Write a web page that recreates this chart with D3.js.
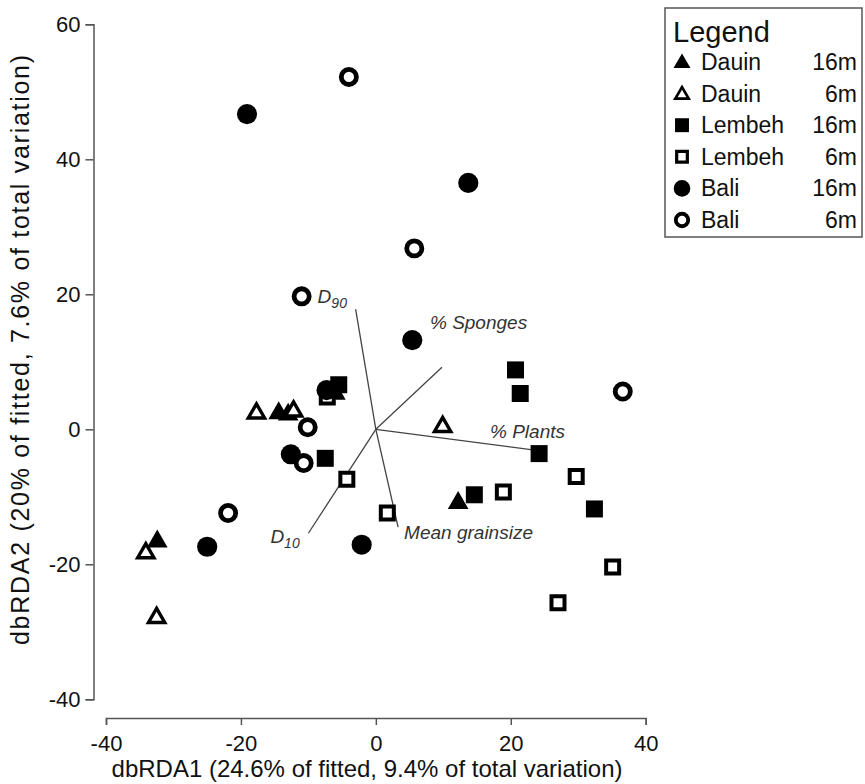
<!DOCTYPE html>
<html lang="en">
<head>
  <meta charset="UTF-8" />
  <title>dbRDA</title>
  <script src="https://d3js.org/d3.v7.min.js"></script>
  <style>
    body { margin: 0; background: #fff; font-family: "Liberation Sans", Arial, sans-serif; }
    .tick text { font-size: 22px; fill: #111; }
    .axis-label { font-size: 24px; fill: #111; }
    .vec-label { font-size: 19px; font-style: italic; fill: #333; }
    .legend text { font-size: 23px; fill: #111; }
  </style>
</head>
<body>
  <svg id="chart"></svg>
  <script>
    // sample groups: location, depth and marker
    const groups = [
      { loc: "Dauin",  depth: "16m", shape: "triangle", filled: true },
      { loc: "Dauin",  depth: "6m",  shape: "triangle", filled: false },
      { loc: "Lembeh", depth: "16m", shape: "square",   filled: true },
      { loc: "Lembeh", depth: "6m",  shape: "square",   filled: false },
      { loc: "Bali",   depth: "16m", shape: "circle",   filled: true },
      { loc: "Bali",   depth: "6m",  shape: "circle",   filled: false }
    ];

    // ordination scores [dbRDA1, dbRDA2] per group
    const dauin16  = [[-14.4, 2.6], [-13.0, 2.4], [-6.0, 5.5], [12.2, -10.7], [-32.4, -16.4]];
    const dauin6   = [[-17.7, 2.6], [-12.2, 2.9], [9.9, 0.6], [-34.1, -18.1], [-32.5, -27.7]];
    const lembeh16 = [[-5.5, 6.6], [-7.5, -4.3], [20.7, 8.8], [21.4, 5.3], [24.2, -3.6], [14.6, -9.7], [32.4, -11.8]];
    const lembeh6  = [[-7.2, 4.8], [-4.3, -7.4], [1.7, -12.4], [18.9, -9.3], [29.7, -7.0], [35.1, -20.4], [27.0, -25.7]];
    const bali16   = [[-19.1, 46.7], [13.7, 36.5], [5.4, 13.2], [-12.6, -3.7], [-2.1, -17.1], [-25.0, -17.4], [-7.3, 5.8]];
    const bali6    = [[-4.0, 52.2], [5.7, 26.8], [-11.0, 19.7], [36.6, 5.6], [-10.1, 0.3], [-10.7, -5.0], [-21.9, -12.4]];
    const series = [dauin16, dauin6, lembeh16, lembeh6, bali16, bali6];

    // environmental vectors (end points)
    const vectors = [
      { name: "D", sub: "90", end: [-3.0, 17.8] },
      { name: "% Sponges", sub: "", end: [9.8, 9.2] },
      { name: "% Plants", sub: "", end: [23.0, -3.0] },
      { name: "Mean grainsize", sub: "", end: [3.3, -14.5] },
      { name: "D", sub: "10", end: [-10.0, -15.4] }
    ];

    const xTicks = [-40, -20, 0, 20, 40];
    const yTicks = [-40, -20, 0, 20, 40, 60];

    const W = 865, H = 784;
    const svg = d3.select("#chart").attr("width", W).attr("height", H);

    const x = d3.scaleLinear().domain([-40, 40]).range([106, 645.7]);
    const y = d3.scaleLinear().domain([-40, 60]).range([699.3, 24.3]);

    const yAxisX = 93.5, xAxisY = 718;

    const xAxis = svg.append("g")
      .attr("transform", `translate(0,${xAxisY})`)
      .call(d3.axisBottom(x).tickValues(xTicks).tickFormat(d => String(d))
        .tickSizeOuter(0).tickSize(7).tickPadding(10));
    const yAxis = svg.append("g")
      .attr("transform", `translate(${yAxisX},0)`)
      .call(d3.axisLeft(y).tickValues(yTicks).tickFormat(d => String(d))
        .tickSizeOuter(0).tickSize(8).tickPadding(5));
    [xAxis, yAxis].forEach(a => {
      a.selectAll("path, line").attr("stroke", "#555").attr("stroke-width", 1.5);
      a.selectAll("text").attr("font-family", "Liberation Sans, Arial, sans-serif");
    });

    svg.append("text")
      .attr("class", "axis-label")
      .attr("x", 367).attr("y", 777)
      .attr("text-anchor", "middle")
      .text("dbRDA1 (24.6% of fitted, 9.4% of total variation)");

    svg.append("text")
      .attr("class", "axis-label")
      .attr("transform", "translate(29,350) rotate(-90)")
      .attr("text-anchor", "middle")
      .style("font-size", "25px")
      .attr("textLength", 590)
      .attr("lengthAdjust", "spacing")
      .text("dbRDA2 (20% of fitted, 7.6% of total variation)");

    // vectors
    const labelOffset = {
      "D90": [-38, -6],
      "% Sponges": [-12, -38],
      "% Plants": [-41, -12],
      "Mean grainsize": [6, 12],
      "D10": [-38, 10]
    };
    vectors.forEach(v => {
      svg.append("line")
        .attr("x1", x(0)).attr("y1", y(0))
        .attr("x2", x(v.end[0])).attr("y2", y(v.end[1]))
        .attr("stroke", "#444").attr("stroke-width", 1.3);
    });

    function markerPath(shape, filled, scale) {
      const sizes = {
        circle:   filled ? 320 : 180,
        square:   filled ? 289 : 169,
        triangle: filled ? 185 : 115
      };
      const type = shape === "circle" ? d3.symbolCircle
                 : shape === "square" ? d3.symbolSquare : d3.symbolTriangle;
      return d3.symbol().type(type).size(sizes[shape] * scale * scale)();
    }
    function strokeW(shape) {
      return shape === "circle" ? 4.8 : shape === "square" ? 4 : 3.4;
    }
    function triShift(shape, scale) {
      return shape === "triangle" ? 1.5 * scale : 0;
    }

    series.forEach((pts, i) => {
      const g = groups[i];
      svg.append("g").selectAll("path")
        .data(pts)
        .join("path")
        .attr("d", markerPath(g.shape, g.filled, 1))
        .attr("transform", d => `translate(${x(d[0])},${y(d[1]) + triShift(g.shape, 1)})`)
        .attr("fill", g.filled ? "#000" : "#fff")
        .attr("stroke", g.filled ? "none" : "#000")
        .attr("stroke-width", strokeW(g.shape));
    });

    // vector labels on top
    vectors.forEach(v => {
      const off = labelOffset[v.name + v.sub];
      const t = svg.append("text")
        .attr("class", "vec-label")
        .attr("x", x(v.end[0]) + off[0])
        .attr("y", y(v.end[1]) + off[1]);
      t.append("tspan").text(v.name);
      if (v.sub) {
        t.append("tspan").attr("dy", 5).attr("font-size", 14).text(v.sub);
      }
    });

    // legend
    const leg = svg.append("g").attr("class", "legend");
    leg.append("rect")
      .attr("x", 665).attr("y", 8).attr("width", 197).attr("height", 229)
      .attr("fill", "#fff").attr("stroke", "#555").attr("stroke-width", 1.5);
    leg.append("text")
      .attr("x", 673).attr("y", 42)
      .style("font-size", "29px")
      .text("Legend");
    groups.forEach((g, i) => {
      const cy = 62 + i * 31.6;
      leg.append("path")
        .attr("d", markerPath(g.shape, g.filled, 0.82))
        .attr("transform", `translate(682,${cy + triShift(g.shape, 0.82)})`)
        .attr("fill", g.filled ? "#000" : "#fff")
        .attr("stroke", g.filled ? "none" : "#000")
        .attr("stroke-width", strokeW(g.shape) * 0.8);
      leg.append("text").attr("x", 701).attr("y", cy + 8).text(g.loc);
      leg.append("text").attr("x", 857).attr("y", cy + 8)
        .attr("text-anchor", "end").text(g.depth);
    });
  </script>
</body>
</html>
